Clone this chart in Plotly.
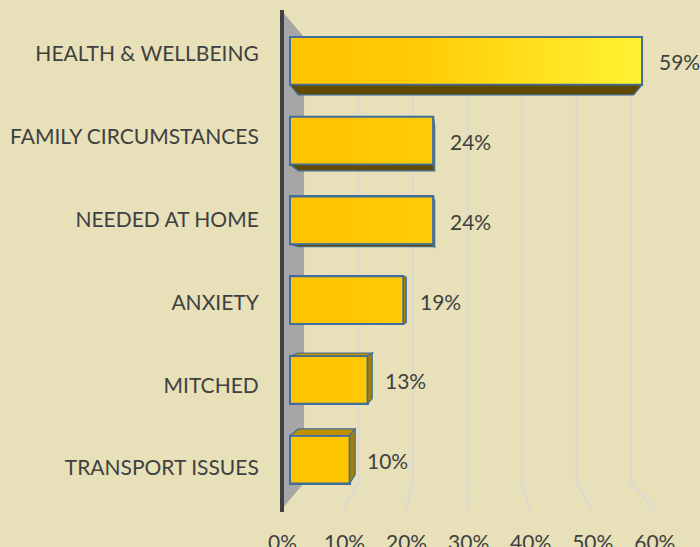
import plotly.graph_objects as go

# ---------------- data ----------------
categories = ["HEALTH & WELLBEING", "FAMILY CIRCUMSTANCES", "NEEDED AT HOME",
              "ANXIETY", "MITCHED", "TRANSPORT ISSUES"]
percent_values = [59, 24, 24, 19, 13, 10]
tick_values = [0, 10, 20, 30, 40, 50, 60]
tick_labels = ["0%", "10%", "20%", "30%", "40%", "50%", "60%"]

# ---------------- style / geometry ----------------
W, H = 700, 547
BG = "#E7E0B9"
TEXT = "#404040"
FONT = "Lato"
FS = 21
EDGE = "#3F6E9E"
BOTTOM_FACE = "#614B00"
TOP_FACE = "#BF9000"
SIDE_FACE = "#A97F00"

ML, MR, MT, MB = 280, 40, 8, 35
PX0, PXU = 290.0, 596.7      # pixel of value 0 and pixels per unit (front face plane)
PY0, PYU = 21.0, 79.75       # top of first band and band height
BAR_W = 0.6
VPX, VPY = 464.0, 295.0      # vanishing point of the 3-D look
DEPTH = 0.048                # bar depth (fraction towards vanishing point)
BACK = 0.874                 # back-wall scale relative to the front floor
FLOOR_X0, FLOOR_XU = 281.0, 623.0
BACK_TOP, BACK_BOT, FRONT_BOT = 37.0, 483.0, 510.0
PLOT_W = W - ML - MR


def xv(px):
    return (px - PX0) / PXU


def yv(py):
    return (py - PY0) / PYU - 0.5


def xpx(v):
    return PX0 + v * PXU


def ypx(i):
    return PY0 + (i + 0.5) * PYU


def toward_vp(px, py, t=DEPTH):
    return px + t * (VPX - px), py + t * (VPY - py)


def path(points, close=True):
    s = "M " + " L ".join(f"{xv(px):.5f},{yv(py):.5f}" for px, py in points)
    return s + (" Z" if close else "")


values = [p / 100 for p in percent_values]
idx = list(range(len(categories)))

x_range = [xv(ML), xv(W - MR)]
y_range = [yv(H - MB), yv(MT)]

shapes = []
# back wall (grey) and gridlines in perspective
shapes.append(dict(type="path", xref="x", yref="y", layer="below",
                   path=path([(FLOOR_X0, 10), (VPX + BACK * (FLOOR_X0 - VPX), BACK_TOP),
                              (VPX + BACK * (FLOOR_X0 - VPX), BACK_BOT), (FLOOR_X0, FRONT_BOT)]),
                   fillcolor="#A6A6A6", line=dict(width=0)))
for tv in tick_values[1:]:
    fx = FLOOR_X0 + tv / 100 * FLOOR_XU
    bx = VPX + BACK * (fx - VPX)
    shapes.append(dict(type="path", xref="x", yref="y", layer="below",
                       path=path([(bx, BACK_TOP), (bx, BACK_BOT), (fx, FRONT_BOT)], close=False),
                       line=dict(color="#DAD9D4", width=2)))
# vertical axis line
shapes.append(dict(type="line", xref="x", yref="y", layer="below",
                   x0=xv(282), x1=xv(282), y0=yv(10), y1=yv(FRONT_BOT + 2),
                   line=dict(color="#404040", width=4)))

# bar depth faces
for i, v in zip(idx, values):
    x0, x1 = xpx(0), xpx(v)
    y0, y1 = ypx(i) - BAR_W / 2 * PYU, ypx(i) + BAR_W / 2 * PYU
    if y1 < VPY:  # bottom face visible
        pts = [(x0, y1), (x1, y1), toward_vp(x1, y1), toward_vp(x0, y1)]
        shapes.append(dict(type="path", xref="x", yref="y", path=path(pts),
                           fillcolor=BOTTOM_FACE, line=dict(color=EDGE, width=1.2)))
    if y0 > VPY:  # top face visible
        pts = [(x0, y0), (x1, y0), toward_vp(x1, y0), toward_vp(x0, y0)]
        shapes.append(dict(type="path", xref="x", yref="y", path=path(pts),
                           fillcolor=TOP_FACE, line=dict(color=EDGE, width=1.2)))
    if x1 < VPX:  # right side visible
        pts = [(x1, y0), (x1, y1), toward_vp(x1, y1), toward_vp(x1, y0)]
        shapes.append(dict(type="path", xref="x", yref="y", path=path(pts),
                           fillcolor=SIDE_FACE, line=dict(color=EDGE, width=1.2)))

fig = go.Figure()

# data bars (front faces)
fig.add_trace(go.Bar(x=values, y=idx, orientation="h", width=BAR_W,
                     marker=dict(color="#FFC000", line=dict(color=EDGE, width=2)),
                     showlegend=False, hoverinfo="skip"))

# gradient overlay for the front faces, built from the same values
gx, gy = [], []
for i, v in zip(idx, values):
    gx += [0, v, v, 0, 0, None]
    gy += [i - BAR_W / 2, i - BAR_W / 2, i + BAR_W / 2, i + BAR_W / 2, i - BAR_W / 2, None]
fig.add_trace(go.Scatter(x=gx, y=gy, mode="lines", fill="toself",
                         fillgradient=dict(type="horizontal",
                                           colorscale=[[0, "#FFC300"], [0.35, "#FFCB05"], [1, "#FFF233"]],
                                           start=0, stop=max(values)),
                         line=dict(color=EDGE, width=2),
                         showlegend=False, hoverinfo="skip"))

# invisible helpers for the label axes
fig.add_trace(go.Scatter(x=[0, max(tick_values) / 100], y=[0, 0], xaxis="x2", yaxis="y",
                         mode="markers", marker=dict(opacity=0), showlegend=False, hoverinfo="skip"))
fig.add_trace(go.Scatter(x=[0] * len(idx), y=idx, xaxis="x", yaxis="y2",
                         mode="markers", marker=dict(opacity=0), showlegend=False, hoverinfo="skip"))

# value labels
annotations = [dict(x=v, y=i, xref="x", yref="y", text=f"{p}%", showarrow=False,
                    xanchor="left", xshift=15, yshift=-1,
                    font=dict(family=FONT, size=FS, color=TEXT))
               for i, v, p in zip(idx, values, percent_values)]

LBL_Y0, LBL_YU = 54.0, 82.8
TICK_X0, TICK_XU = 282.5, 620.5
fig.update_layout(
    width=W, height=H,
    margin=dict(l=ML, r=MR, t=MT, b=MB, pad=0, autoexpand=False),
    paper_bgcolor=BG, plot_bgcolor="rgba(0,0,0,0)",
    font=dict(family=FONT, size=FS, color=TEXT),
    shapes=shapes, annotations=annotations, bargap=0,
    xaxis=dict(range=x_range, showticklabels=False, showgrid=False, zeroline=False,
               showline=False, ticks="", automargin=False),
    yaxis=dict(range=y_range, showticklabels=False, showgrid=False, zeroline=False,
               showline=False, ticks="", automargin=False),
    xaxis2=dict(domain=[(TICK_X0 - ML) / PLOT_W, (TICK_X0 + 0.6 * TICK_XU - ML) / PLOT_W],
                anchor="free", position=0, range=[0, 0.6], automargin=False, tickangle=0,
                tickmode="array", tickvals=[t / 100 for t in tick_values], ticktext=tick_labels,
                showgrid=False, zeroline=False, showline=False,
                ticks="outside", ticklen=12, tickcolor="rgba(0,0,0,0)",
                tickfont=dict(family=FONT, size=FS, color=TEXT)),
    yaxis2=dict(anchor="free", position=0, domain=[0, 1], automargin=False,
                range=[(H - MB - LBL_Y0) / LBL_YU, (MT - LBL_Y0) / LBL_YU],
                tickmode="array", tickvals=idx, ticktext=categories,
                showgrid=False, zeroline=False, showline=False,
                ticks="outside", ticklen=17, tickcolor="rgba(0,0,0,0)",
                tickfont=dict(family=FONT, size=FS, color=TEXT)),
)

fig.write_html("out.html", config={"displayModeBar": False},
               post_script="document.body.style.margin='0';")
